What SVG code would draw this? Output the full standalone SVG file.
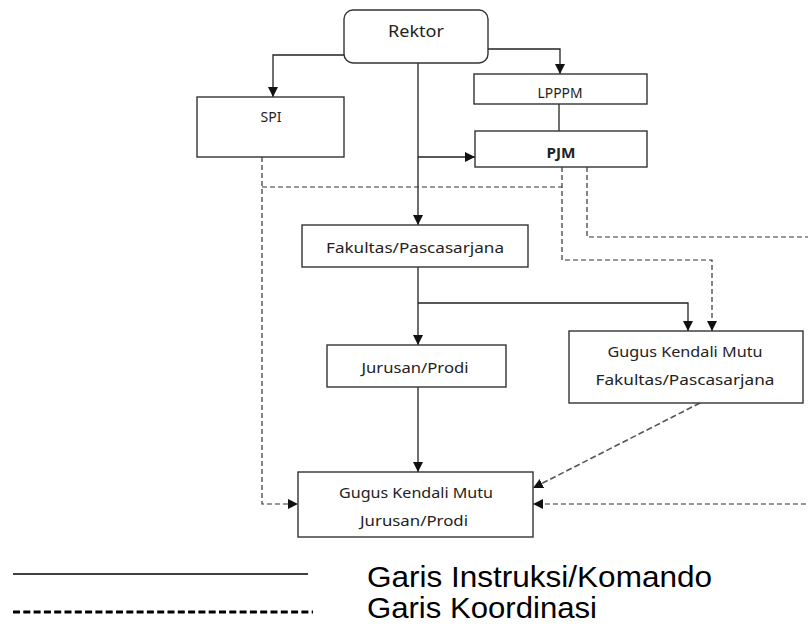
<svg xmlns="http://www.w3.org/2000/svg" width="808" height="628" viewBox="0 0 808 628">
<style>
.box{fill:#fff;stroke:#333;stroke-width:1.4}
.lbl{font-family:"Noto Sans","DejaVu Sans",sans-serif;font-size:15px;fill:#222;text-anchor:middle}
.solid{fill:none;stroke:#222;stroke-width:1.3}
.dash{fill:none;stroke:#333;stroke-width:1.2;stroke-dasharray:5 3}
.diag{fill:none;stroke:#555;stroke-width:1.6;stroke-dasharray:6 3}
.leg{font-family:"Liberation Sans",Arial,sans-serif;font-size:30px;fill:#000}
</style>
<defs>
<marker id="ah" viewBox="0 0 10 10" refX="10" refY="5" markerWidth="10" markerHeight="10" markerUnits="userSpaceOnUse" orient="auto">
<path d="M0,0 L10,5 L0,10 z" fill="#111"/>
</marker>
</defs>
<rect width="808" height="628" fill="#fff"/>
<g id="connectors">
<path class="solid" d="M344,55 H273 V97" marker-end="url(#ah)"/>
<path class="solid" d="M488,49 H560 V74" marker-end="url(#ah)"/>
<path class="solid" d="M418,63 V225" marker-end="url(#ah)"/>
<path class="solid" d="M418,157 H475" marker-end="url(#ah)"/>
<path class="solid" d="M559,104 V131"/>
<path class="solid" d="M418,267 V345" marker-end="url(#ah)"/>
<path class="solid" d="M418,303 H688 V331" marker-end="url(#ah)"/>
<path class="solid" d="M418,387 V472" marker-end="url(#ah)"/>
<path class="dash" d="M262,157 V504 H298" marker-end="url(#ah)"/>
<path class="dash" d="M262,187 H562"/>
<path class="dash" d="M562,167 V260 H712 V331" marker-end="url(#ah)"/>
<path class="dash" d="M587,167 V237 H812 V504 H533" marker-end="url(#ah)"/>
<path class="diag" d="M700,403 L533,488" marker-end="url(#ah)"/>
</g>
<g id="rektor">
<rect class="box" x="344" y="10" width="144" height="53" rx="9"/>
<text class="lbl" x="416" y="37" textLength="56" lengthAdjust="spacingAndGlyphs" style="font-size:17px">Rektor</text>
</g>
<g id="spi">
<rect class="box" x="197" y="97" width="147" height="60"/>
<text class="lbl" x="271" y="122" textLength="21" lengthAdjust="spacingAndGlyphs">SPI</text>
</g>
<g id="lpppm">
<rect class="box" x="474" y="74" width="173" height="30"/>
<text class="lbl" x="560" y="98" textLength="45" lengthAdjust="spacingAndGlyphs" style="font-size:14px">LPPPM</text>
</g>
<g id="pjm">
<rect class="box" x="475" y="131" width="172" height="36"/>
<text class="lbl" x="561" y="158" textLength="29" lengthAdjust="spacingAndGlyphs" style="font-size:14px;font-weight:bold">PJM</text>
</g>
<g id="fakultas">
<rect class="box" x="302" y="225" width="226" height="42"/>
<text class="lbl" x="415" y="253" textLength="178" lengthAdjust="spacingAndGlyphs">Fakultas/Pascasarjana</text>
</g>
<g id="jurusan">
<rect class="box" x="327" y="345" width="179" height="42"/>
<text class="lbl" x="415" y="373" textLength="107" lengthAdjust="spacingAndGlyphs">Jurusan/Prodi</text>
</g>
<g id="gkm-fakultas">
<rect class="box" x="569" y="331" width="234" height="72"/>
<text class="lbl" x="685" y="357" textLength="155" lengthAdjust="spacingAndGlyphs">Gugus Kendali Mutu</text>
<text class="lbl" x="685" y="385" textLength="179" lengthAdjust="spacingAndGlyphs">Fakultas/Pascasarjana</text>
</g>
<g id="gkm-jurusan">
<rect class="box" x="298" y="472" width="235" height="65"/>
<text class="lbl" x="416" y="498" textLength="154" lengthAdjust="spacingAndGlyphs">Gugus Kendali Mutu</text>
<text class="lbl" x="414" y="526" textLength="108" lengthAdjust="spacingAndGlyphs">Jurusan/Prodi</text>
</g>
<g id="legend">
<line x1="13" y1="574" x2="308" y2="574" stroke="#000" stroke-width="1.4"/>
<line x1="13" y1="612" x2="313" y2="612" stroke="#000" stroke-width="3" stroke-dasharray="7 3.3"/>
<text class="leg" x="367" y="587" textLength="345" lengthAdjust="spacingAndGlyphs">Garis Instruksi/Komando</text>
<text class="leg" x="367" y="618" textLength="230" lengthAdjust="spacingAndGlyphs">Garis Koordinasi</text>
</g>
</svg>
